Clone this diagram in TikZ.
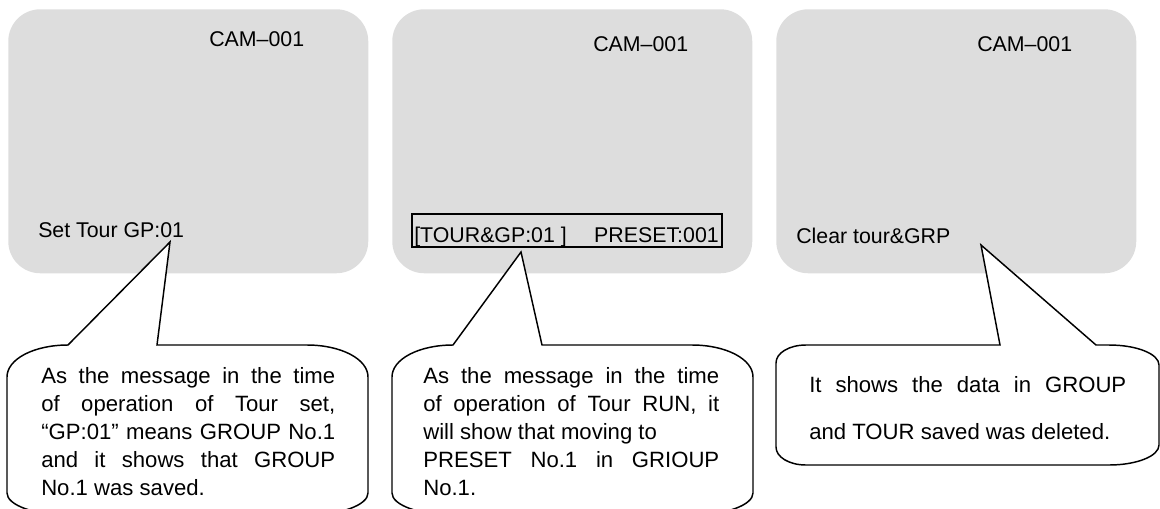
\documentclass[tikz,border=0pt]{standalone}
\usepackage{fontspec}
\setmainfont{Liberation Sans}
\definecolor{screen}{HTML}{DDDDDD}
\tolerance=10000
\hyphenpenalty=10000
\tikzset{
  panel/.style={fill=screen, draw=none, rounded corners=24pt, minimum width=270pt, minimum height=198pt, inner sep=0pt, anchor=north west},
  osd/.style={font=\fontsize{16}{19}\selectfont, inner sep=0pt, anchor=base west},
  osdbox/.style={draw, line width=1.1pt, minimum width=232.5pt, minimum height=24.75pt, inner sep=0pt},
  callout/.style={draw, fill=white, line width=1.1pt, line join=miter},
  note/.style={font=\fontsize{16.6}{21}\selectfont, align=justify, inner sep=0pt, anchor=base west}
}
\begin{document}
\begin{tikzpicture}[x=0.75pt,y=-0.75pt]
\useasboundingbox (0,0) rectangle (1160,508);
\clip (0,0) rectangle (1160,508);
% screens
\node[panel] (s1) at (8,9) {};
\node[panel] (s2) at (392,9) {};
\node[panel] (s3) at (776,9) {};
% screen texts
\node[osd] (cam1) at (209,46) {CAM--001};
\node[osd] (cam2) at (593,51) {CAM--001};
\node[osd] (cam3) at (977,51) {CAM--001};
\node[osd] (msg1) at (38,237) {Set Tour GP:01};
\node[osdbox] (gpbox) at (567,230.5) {};
\node[osd] (msg2a) at (414,242) {[TOUR\&GP:01 ]};
\node[osd, anchor=base east] (msg2b) at (719,242) {PRESET:001};
\node[osd] (msg3) at (796,243) {Clear tour\&GRP};
% pointer tips
\coordinate (tip1) at (170,242);
\coordinate (tip2) at (521,252);
\coordinate (tip3) at (981,245);
% callout 1
\draw[callout] (68,345) -- (tip1) -- (157,345) -- (307,345)
  .. controls (341,345) and (368,359) .. (368,377) -- (368,493)
  .. controls (368,505) and (341,515) .. (307,515) -- (68,515)
  .. controls (34,515) and (7,505) .. (7,493) -- (7,377)
  .. controls (7,359) and (34,345) .. (68,345) -- cycle;
% callout 2
\draw[callout] (453,345) -- (tip2) -- (542,345) -- (692,345)
  .. controls (726,345) and (753,359) .. (753,377) -- (753,493)
  .. controls (753,505) and (726,515) .. (692,515) -- (453,515)
  .. controls (419,515) and (392,505) .. (392,493) -- (392,377)
  .. controls (392,359) and (419,345) .. (453,345) -- cycle;
% callout 3
\draw[callout] (1000,345) -- (tip3) -- (1096,345) -- (1109,345)
  .. controls (1137,345) and (1159,354) .. (1159,365) -- (1159,445)
  .. controls (1159,456) and (1137,465) .. (1109,465) -- (806,465)
  .. controls (789,465) and (776,457) .. (776,447) -- (776,363)
  .. controls (776,353) and (789,345) .. (806,345) -- cycle;
% callout texts
\node[note, text width=220.5pt] (n1) at (41,383) {As the message in the time\linebreak of operation of Tour set,\linebreak “GP:01” means GROUP No.1\linebreak and it shows that GROUP\linebreak No.1 was saved.};
\node[note, text width=222pt] (n2) at (423,383) {As the message in the time\linebreak of operation of Tour RUN, it\linebreak will show that moving to\hfill\break PRESET No.1 in GRIOUP\linebreak No.1.};
\node[note, text width=237.75pt, font=\fontsize{16.6}{35.25}\selectfont] (n3) at (809,392) {It shows the data in GROUP\linebreak and TOUR saved was deleted.};
\end{tikzpicture}
\end{document}
